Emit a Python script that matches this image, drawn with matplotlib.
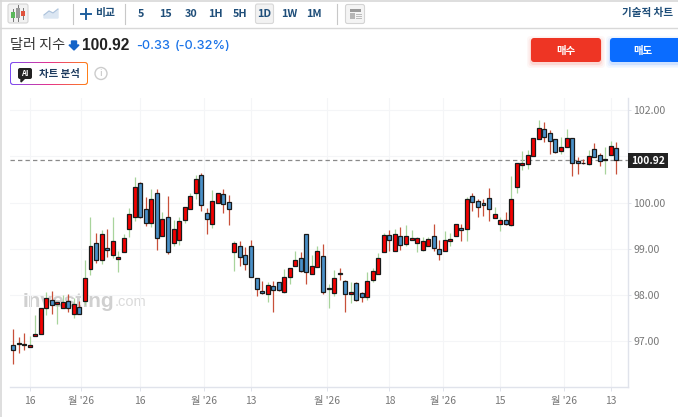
#!/usr/bin/env python
import numpy as np
import matplotlib.pyplot as plt
from matplotlib.patches import FancyBboxPatch, Rectangle, Circle

plt.rcParams['font.family'] = ['Noto Sans CJK KR', 'DejaVu Sans']

# daily candles
opens = [96.91, 96.96, 96.95, 96.88, 97.11, 97.15, 97.72, 97.90, 97.81, 97.71,
         97.87, 97.59, 97.74, 97.87, 98.56, 99.12, 98.77, 99.01, 98.86, 98.79,
         98.94, 99.44, 99.68, 100.43, 99.86, 99.55, 100.22, 99.28, 99.68, 99.13,
         99.19, 99.63, 99.86, 100.22, 100.59, 99.78, 99.53, 99.99, 100.18, 100.01,
         98.94, 99.06, 98.87, 99.06, 98.38, 98.08, 98.02, 98.20, 98.28, 98.07,
         98.39, 98.62, 98.81, 99.33, 98.46, 98.60, 98.85, 98.13, 98.05, 98.47,
         98.31, 98.03, 98.26, 98.05, 97.95, 98.32, 98.46, 98.93, 99.29, 98.96,
         99.28, 99.11, 99.19, 99.12, 98.98, 99.07, 99.27, 99.00, 98.95, 99.16,
         99.28, 99.46, 99.42, 100.14, 100.03, 100.00, 100.11, 99.66, 99.53, 99.63,
         99.52, 100.33, 100.82, 100.83, 101.00, 101.37, 101.59, 101.50, 101.37, 101.11,
         101.21, 101.40, 100.90, 100.86, 100.83, 101.16, 101.04, 100.92, 101.04, 101.18]
highs = [97.27, 97.09, 97.17, 97.12, 97.56, 97.71, 98.07, 98.09, 97.86, 98.00,
         98.02, 97.93, 97.87, 98.76, 99.69, 99.34, 99.41, 99.43, 99.69, 98.96,
         99.32, 99.88, 100.55, 100.45, 100.12, 100.30, 100.30, 99.79, 100.15, 99.63,
         99.68, 99.90, 100.20, 100.61, 100.64, 99.89, 100.28, 100.22, 100.30, 100.17,
         99.17, 99.17, 99.05, 99.19, 98.38, 98.31, 98.29, 98.31, 98.29, 98.57,
         98.58, 98.96, 98.93, 99.33, 98.87, 99.06, 99.11, 98.24, 98.54, 98.59,
         98.33, 98.28, 98.28, 98.06, 98.49, 98.59, 98.92, 99.34, 99.41, 99.42,
         99.48, 99.52, 99.41, 99.25, 99.26, 99.25, 99.54, 99.19, 99.39, 99.34,
         99.54, 99.53, 100.12, 100.20, 100.07, 100.08, 100.31, 99.91, 99.68, 99.79,
         100.58, 100.85, 101.11, 101.14, 101.40, 101.79, 101.75, 101.57, 101.37, 101.42,
         101.60, 101.40, 100.98, 100.94, 101.14, 101.29, 101.07, 101.21, 101.34, 101.31]
lows = [96.51, 96.75, 96.81, 96.88, 97.11, 97.15, 97.57, 97.59, 97.37, 97.71,
        97.63, 97.50, 97.60, 97.79, 98.44, 98.70, 98.67, 98.83, 98.80, 98.50,
        98.94, 99.26, 99.61, 99.66, 99.50, 99.47, 98.97, 99.28, 98.89, 99.06,
        99.08, 99.57, 99.86, 100.07, 99.81, 99.32, 99.45, 99.99, 99.77, 99.52,
        98.53, 98.63, 98.54, 98.39, 97.98, 98.02, 97.85, 97.64, 98.09, 98.05,
        98.23, 98.62, 98.51, 98.23, 98.45, 98.60, 98.02, 97.73, 97.98, 98.33,
        97.63, 97.82, 97.87, 97.86, 97.89, 98.28, 98.45, 98.93, 98.95, 98.96,
        98.98, 99.07, 99.19, 98.93, 98.96, 99.07, 98.96, 98.76, 98.95, 99.06,
        99.28, 99.17, 99.16, 99.83, 99.70, 99.71, 99.60, 99.66, 99.39, 99.52,
        99.50, 100.22, 100.71, 100.74, 101.00, 101.37, 101.32, 101.06, 101.07, 101.06,
        101.20, 100.58, 100.62, 100.84, 100.82, 100.98, 100.80, 100.62, 101.03, 100.62]
closes = [96.81, 96.94, 96.93, 96.93, 97.16, 97.71, 97.93, 97.79, 97.84, 97.84,
          97.71, 97.80, 97.60, 98.38, 99.06, 98.77, 99.33, 98.98, 99.18, 98.83,
          99.23, 99.75, 100.35, 99.70, 99.57, 100.09, 99.23, 99.65, 98.94, 99.42,
          99.60, 99.90, 100.15, 100.51, 99.95, 99.65, 100.03, 100.22, 99.97, 99.86,
          99.13, 98.82, 98.67, 98.39, 98.13, 98.05, 98.22, 98.10, 98.10, 98.39,
          98.58, 98.77, 98.52, 98.51, 98.64, 98.96, 98.07, 98.16, 98.37, 98.45,
          98.03, 98.07, 97.89, 97.95, 98.30, 98.52, 98.81, 99.29, 99.19, 99.32,
          99.08, 99.27, 99.23, 99.23, 99.17, 99.21, 99.02, 98.90, 99.19, 99.21,
          99.53, 99.40, 100.07, 100.02, 99.91, 99.96, 99.86, 99.75, 99.63, 99.53,
          100.09, 100.85, 100.85, 101.03, 101.40, 101.61, 101.42, 101.34, 101.09, 101.20,
          101.39, 100.85, 100.85, 100.85, 101.02, 100.98, 100.90, 100.94, 101.23, 100.92]

price_ticks = [97, 98, 99, 100, 101, 102]
price_labels = ['97.00', '98.00', '99.00', '100.00', '', '102.00']
date_ticks = [3, 12.3, 23, 34.5, 43, 56.7, 68, 77.6, 88, 99.5, 108]
date_labels = ['16', "월 '26", '16', "월 '26", '13', "월 '26", '18', "월 '26", '15', "월 '26", '13']
last_price = 100.92
intervals = ['5', '15', '30', '1H', '5H', '1D', '1W', '1M']
interval_x = [141, 166, 191, 215, 240, 264, 289, 314]

W, H = 678, 417
fig = plt.figure(figsize=(W / 100, H / 100), dpi=100)

# whole figure in pixel coordinates, for the toolbar and header
ui = fig.add_axes([0, 0, 1, 1], zorder=2)
ui.set_xlim(0, W)
ui.set_ylim(H, 0)
ui.axis('off')
ui.patch.set_alpha(0)


def box(x0, y0, x1, y1, fc, ec='none', lw=0.8, r=2, z=3):
    p = FancyBboxPatch((x0 + r, y0 + r), x1 - x0 - 2 * r, y1 - y0 - 2 * r,
                       boxstyle='round,pad=%g,rounding_size=%g' % (r, r),
                       fc=fc, ec=ec, lw=lw, zorder=z, mutation_aspect=1)
    ui.add_patch(p)
    return p


def label(x, y, s, size=7, color='#333333', weight='normal', ha='center', **kw):
    ui.text(x, y, s, fontsize=size, color=color, fontweight=weight, ha=ha, va='center', zorder=6, **kw)


# frame lines
ui.plot([0.5, 0.5], [0, H], color='#d8d8d8', lw=1.2)
ui.plot([0, W], [0.5, 0.5], color='#d8d8d8', lw=1.2)
ui.plot([0, W], [27.5, 27.5], color='#d8d8d8', lw=1.0)
for sx in [72.5, 124.5, 336.5]:
    ui.plot([sx, sx], [4, 24], color='#c8c8c8', lw=0.8)

# candlestick button
box(8, 4, 28, 23, '#f2f2f2', '#d4d4d4')
for cx, y0, y1, c in [(13, 10, 20, '#5cb85c'), (18, 6, 20, '#999999'), (23, 9, 18, '#e0533d')]:
    ui.plot([cx, cx], [y0 - 1, y1 + 1], color='#777777', lw=0.7, zorder=4)
    ui.add_patch(Rectangle((cx - 1.8, y0 + 2), 3.6, y1 - y0 - 4, fc=c, ec='none', zorder=5))
# area icon
ui.fill([44, 49, 53, 58, 58, 44], [15, 11, 13, 9, 18, 18], color='#dbe6f2', zorder=4)
ui.plot([44, 49, 53, 58], [15, 11, 13, 9], color='#a9c0da', lw=0.7, zorder=4)
# compare
ui.plot([81, 91], [14, 14], color='#1f5f9e', lw=1.4)
ui.plot([86, 86], [9, 19], color='#1f5f9e', lw=1.4)
label(105.5, 13, '비교', 7.8, '#1f4e79', 'bold')
# intervals
box(255.5, 4, 273.5, 23.5, '#f2f2f2', '#d8d8d8')
for ix, s in zip(interval_x, intervals):
    label(ix, 13.5, s, 7.8, '#1f4e79', 'bold')
# layout icon
box(345.5, 4.5, 364.5, 23.5, '#f4f4f4', '#d4d4d4')
ui.add_patch(Rectangle((349.5, 9), 11, 2.5, fc='#9a9a9a', ec='none', zorder=4))
ui.add_patch(Rectangle((349.5, 13), 5, 6, fc='#b5b5b5', ec='none', zorder=4))
for ly in [13.5, 15.5, 17.5]:
    ui.plot([356, 360.5], [ly, ly], color='#bbbbbb', lw=0.7, zorder=4)
label(673, 13, '기술적 차트', 7.6, '#1f4e79', 'bold', ha='right')

# header
label(10, 45, '달러 지수', 10.2, '#333333', ha='left')
ui.fill([71.5, 76.5, 76.5, 79, 74, 69, 71.5], [41, 41, 45, 45, 50, 45, 45], color='#1463c8', zorder=5)
label(82, 45.5, '100.92', 11.2, '#222222', 'bold', ha='left', family=['Liberation Sans'])
label(136, 45.5, '-0.33', 9.1, '#1a73e8', 'medium', ha='left', family=['Inter'])
label(175, 45.5, '(-0.32%)', 9.1, '#1a73e8', 'medium', ha='left', family=['Inter'])

# AI button with gradient border
grad = np.zeros((1, 64, 3))
c0, c1, c2 = np.array([0.48, 0.3, 0.95]), np.array([0.9, 0.2, 0.55]), np.array([1.0, 0.5, 0.1])
for i in range(64):
    t = i / 63
    grad[0, i] = c0 + (c1 - c0) * t * 2 if t < 0.5 else c1 + (c2 - c1) * (t - 0.5) * 2
im = ui.imshow(grad, extent=(10, 88, 85, 62), aspect='auto', zorder=3)
im.set_clip_path(box(10, 62, 88, 85, 'none', r=3))
ui.set_xlim(0, W)
ui.set_ylim(H, 0)
box(11, 63, 87, 84, 'white', r=2.5, z=4)
box(18, 68, 32, 79, '#222222', r=2, z=5)
ui.fill([21, 25, 21], [78, 78, 82], color='#222222', zorder=5)
label(25, 73.2, 'AI', 5.5, 'white', 'bold')
label(59.5, 73.5, '차트 분석', 7.5, '#1c3a5e', 'bold')
ui.add_patch(Circle((101, 73.5), 6, fc='white', ec='#cccccc', lw=1, zorder=4))
label(101, 73.5, 'i', 6.5, '#bbbbbb')

# buy and sell buttons, with soft shadow
for grow, a in [(4, 0.04), (2.5, 0.06), (1, 0.1)]:
    box(531 - grow, 38 - grow + 2, 601 + grow, 62 + grow + 2, (0.93, 0.21, 0.14, a), r=4, z=2)
    box(610 - grow, 38 - grow + 2, 690 + grow, 62 + grow + 2, (0.04, 0.42, 1.0, a), r=4, z=2)
box(531, 38, 601, 62, '#ee3524', r=3)
box(610, 38, 690, 62, '#0a6cff', r=3)
label(565.5, 50.5, '매수', 7.5, 'white', 'bold')
label(643, 50.5, '매도', 7.5, 'white', 'bold')

# chart area
left, right, top, bottom = 10, 628.3, 98, 387.3
xlim = (-0.542, 111.16)
ylim = (96.004, 102.266)
ax = fig.add_axes([left / W, 1 - bottom / H, (right - left) / W, (bottom - top) / H], zorder=1)
ax.set_xlim(*xlim)
ax.set_ylim(*ylim)
ax.set_axisbelow(True)
ax.grid(True, color='#f4f5f7', lw=0.8)
for s in ['left', 'top']:
    ax.spines[s].set_visible(False)
for s in ['right', 'bottom']:
    ax.spines[s].set_color('#e0e3eb')
    ax.spines[s].set_linewidth(1.0)

ax.yaxis.tick_right()
ax.set_yticks(price_ticks)
ax.set_yticklabels(price_labels, fontsize=7.6, color='#777777')
ax.set_xticks(date_ticks)
ax.set_xticklabels(date_labels, fontsize=7.4, color='#777777')
ax.tick_params(axis='x', length=3, width=0.7, color='#e0e3eb', pad=3.6)
ax.tick_params(axis='y', length=2.5, width=0.7, color='#e0e3eb', pad=1)

# watermark sits under the candles
ax.text(1.8, 97.86, 'Investing', fontsize=15, color='#d0d0d0', fontweight='bold',
        family='Liberation Sans', va='center', ha='left', zorder=0.5)
ax.text(18.3, 97.84, '.com', fontsize=10.5, color='#dadada',
        family='Liberation Sans', va='center', ha='left', zorder=0.5)

x = np.arange(len(opens))
o = np.array(opens)
c = np.array(closes)
up = c >= o

ax.axhline(last_price, color='#8a8a8a', lw=0.9, ls=(0, (3.5, 2.5)), zorder=1)
ax.vlines(x[up], np.array(lows)[up], np.array(highs)[up], color='#a8d49c', lw=0.9, zorder=2)
ax.vlines(x[~up], np.array(lows)[~up], np.array(highs)[~up], color='#c8503a', lw=0.9, zorder=2)
ax.bar(x, np.abs(c - o), bottom=np.minimum(o, c), width=0.72,
       color=np.where(up, '#f40000', '#4a90c8'), edgecolor='#1a1a1a', linewidth=0.9, zorder=3)

# last price tag
ui.add_patch(Rectangle((628, 152.7), 40, 15.6, fc='#222222', ec='none', zorder=5))
label(648.5, 160.8, '100.92', 7.4, 'white', 'bold')

fig.savefig('out.png', dpi=100)
